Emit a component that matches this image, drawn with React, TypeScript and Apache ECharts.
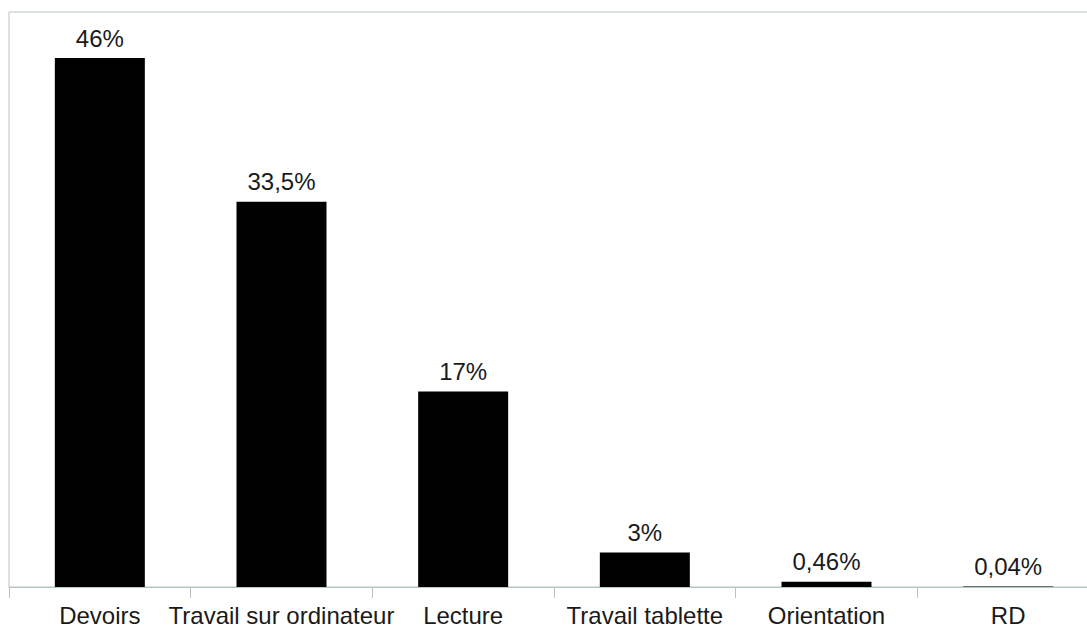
import React, { useEffect, useRef } from "react";
import * as echarts from "echarts";

const categories = ["Devoirs", "Travail sur ordinateur", "Lecture", "Travail tablette", "Orientation", "RD"];
const values = [46, 33.5, 17, 3, 0.46, 0.04];
const yMax = 50;

const LINE = "#b8c4c4";
const FONT = "'Liberation Sans', Arial, sans-serif";

export default function App() {
  const ref = useRef<HTMLDivElement>(null);
  useEffect(() => {
    if (!ref.current) return;
    const chart = echarts.init(ref.current, undefined, { renderer: "svg" });
    chart.setOption({
      animation: false,
      backgroundColor: "#ffffff",
      grid: {
        left: 9,
        top: 12,
        width: 1090,
        height: 575,
        outerBoundsMode: "none",
        containLabel: false,
        show: true,
        borderColor: LINE,
        borderWidth: 1,
        backgroundColor: "transparent",
      },
      xAxis: {
        type: "category",
        data: categories,
        boundaryGap: true,
        axisLine: { show: true, lineStyle: { color: LINE, width: 1 } },
        axisTick: { show: true, length: 11, lineStyle: { color: LINE, width: 1 } },
        axisLabel: {
          color: "#1a1a1a",
          fontFamily: FONT,
          fontSize: 24,
          margin: 16,
          interval: 0,
        },
      },
      yAxis: {
        type: "value",
        min: 0,
        max: yMax,
        show: true,
        axisLine: { show: false },
        axisTick: { show: false },
        axisLabel: { show: false },
        splitLine: { show: false },
      },
      series: [
        {
          type: "bar",
          data: values,
          barWidth: 90,
          itemStyle: { color: "#000000" },
          label: {
            show: true,
            position: "top",
            distance: 8,
            color: "#1a1a1a",
            fontFamily: FONT,
            fontSize: 24,
            formatter: (p: any) => String(p.value).replace(".", ",") + "%",
          },
        },
      ],
    });
    return () => chart.dispose();
  }, []);
  return (
    <div
      ref={ref}
      style={{ position: "fixed", left: 0, top: 0, width: 1087, height: 630, background: "#fff" }}
    />
  );
}
